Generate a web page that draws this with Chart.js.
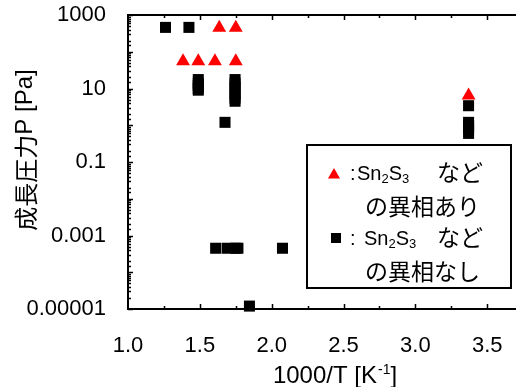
<!DOCTYPE html>
<html><head><meta charset="utf-8">
<script src="https://cdn.jsdelivr.net/npm/chart.js@4/dist/chart.umd.min.js"></script>
<style>html,body{margin:0;padding:0;background:#fff}#wrap{width:516px;height:387px}</style>
</head><body><div id="wrap"><canvas id="c" width="516" height="387"></canvas></div>
<script>
// ---- data (1000/T [1/K], growth pressure P [Pa]) ----
const withPhaseX = [1.635, 1.75, 1.383, 1.489, 1.605, 1.75, 3.37];
const withPhaseY = [450, 450, 55, 55, 55, 55, 6.5];
const noPhaseX = [1.261, 1.424,
  1.489, 1.489, 1.489, 1.489, 1.489,
  1.745, 1.745, 1.745, 1.745, 1.745, 1.745, 1.745,
  1.675,
  1.61, 1.69, 1.75, 1.765, 2.075,
  1.845,
  3.37, 3.37, 3.37, 3.37, 3.37];
const noPhaseY = [460, 460,
  17.5, 14, 12, 10, 9,
  17.5, 14, 11, 9, 7, 5.5, 4.5,
  1.2,
  4.5e-4, 4.5e-4, 4.5e-4, 4.5e-4, 4.5e-4,
  1.2e-5,
  3.4, 1.2, 1.0, 0.8, 0.6];
const xTickLabels = ['1.0', '1.5', '2.0', '2.5', '3.0', '3.5'];
const yTickLabels = ['0.00001', '0.001', '0.1', '10', '1000'];
const xTitle = ['1000/T [K', '-1', ']'];
const yTitle = ['成長圧力', 'P [Pa]'];
const legendLabels = [['Sn', '2', 'S', '3', 'など', 'の異相あり'], ['Sn', '2', 'S', '3', 'など', 'の異相なし']];

const LAT = '"Liberation Sans", Arial, sans-serif';
const CJK = '"Noto Sans CJK JP", "Noto Sans CJK SC", sans-serif';

function pts(xs, ys) { return xs.map((x, i) => ({x: x, y: ys[i]})); }

const decorPlugin = {
  id: 'decor',
  afterDraw(chart) {
    const ctx = chart.ctx, ca = chart.chartArea;
    const xs = chart.scales.x, ys = chart.scales.y;
    ctx.save();
    ctx.strokeStyle = '#000'; ctx.fillStyle = '#000';
    // top frame line
    ctx.lineWidth = 2;
    ctx.beginPath(); ctx.moveTo(ca.left - 1, ca.top); ctx.lineTo(ca.right, ca.top); ctx.stroke();
    // x ticks (inward, bottom and top)
    ctx.lineWidth = 1.5;
    xs.ticks.forEach(t => {
      const q = t.value / 0.25;
      if (Math.abs(q - Math.round(q)) > 1e-6) return;
      const px = Math.round(xs.getPixelForValue(t.value)) + 0.5;
      if (px <= ca.left + 1 || px >= ca.right - 1) return;
      const major = Math.abs(t.value * 2 - Math.round(t.value * 2)) < 1e-6;
      const len = major ? 5 : 3;
      ctx.beginPath();
      ctx.moveTo(px, ca.bottom); ctx.lineTo(px, ca.bottom - len);
      ctx.moveTo(px, ca.top); ctx.lineTo(px, ca.top + len);
      ctx.stroke();
    });
    // y ticks (inward, left)
    ys.ticks.forEach(t => {
      const py = Math.round(ys.getPixelForValue(t.value)) + 0.5;
      const lg = Math.log10(t.value);
      const major = Math.abs(lg - Math.round(lg)) < 1e-6;
      const len = major ? 5 : 3;
      ctx.beginPath(); ctx.moveTo(ca.left, py); ctx.lineTo(ca.left + len, py); ctx.stroke();
    });
    // x title
    ctx.textBaseline = 'alphabetic'; ctx.textAlign = 'left';
    const f1 = '24px ' + LAT, f2 = '14px ' + LAT;
    ctx.font = f1; const w1 = ctx.measureText(xTitle[0]).width, w3 = ctx.measureText(xTitle[2]).width;
    ctx.font = f2; const w2 = ctx.measureText(xTitle[1]).width;
    let x0 = (ca.left + ca.right) / 2 + 13 - (w1 + w2 + w3 + 1) / 2;
    const by = 383;
    ctx.font = f1; ctx.fillText(xTitle[0], x0, by);
    ctx.font = f2; ctx.fillText(xTitle[1], x0 + w1 + 1, by - 9);
    ctx.font = f1; ctx.fillText(xTitle[2], x0 + w1 + w2 + 1, by);
    // y title (rotated)
    ctx.save();
    ctx.translate(25, 150); ctx.rotate(-Math.PI / 2);
    const fc = '24px ' + CJK, fl = '24px ' + LAT;
    ctx.font = fc; const a1 = ctx.measureText(yTitle[0]).width;
    ctx.font = fl; const a2 = ctx.measureText(yTitle[1]).width;
    let sx = -(a1 + a2) / 2;
    ctx.textBaseline = 'middle';
    ctx.font = fc; ctx.fillText(yTitle[0], sx, 1);
    ctx.font = fl; ctx.fillText(yTitle[1], sx + a1, 0);
    ctx.restore();
    // legend box
    const L = ca.right - 209, T = 145, R = ca.right - 5, B = 288;
    ctx.fillStyle = '#fff'; ctx.fillRect(L, T, R - L, B - T);
    ctx.lineWidth = 2; ctx.strokeStyle = '#000';
    ctx.strokeRect(L, T, R - L, B - T);
    // markers
    ctx.fillStyle = '#ff0000';
    Chart.helpers.drawPoint(ctx, {pointStyle: 'triangle', radius: 7, rotation: 0, borderWidth: 0}, L + 27, T + 30);
    ctx.fillStyle = '#000';
    Chart.helpers.drawPoint(ctx, {pointStyle: 'rect', radius: 7.1, rotation: 0, borderWidth: 0}, L + 29, T + 93);
    // legend texts
    const lf = '20px ' + LAT, sf = '13px ' + LAT, cf = '23px ' + CJK;
    ctx.fillStyle = '#000'; ctx.textBaseline = 'alphabetic';
    const lines = [{b: T + 35, colon: ':', sn: L + 50}, {b: T + 100, colon: ':', sn: L + 57}];
    lines.forEach((ln, i) => {
      const lab = legendLabels[i];
      let x = L + 43;
      ctx.font = lf; ctx.fillText(ln.colon, x, ln.b);
      x = ln.sn;
      ctx.font = lf; ctx.fillText(lab[0], x, ln.b); x += ctx.measureText(lab[0]).width;
      ctx.font = sf; ctx.fillText(lab[1], x, ln.b + 3); x += ctx.measureText(lab[1]).width;
      ctx.font = lf; ctx.fillText(lab[2], x, ln.b); x += ctx.measureText(lab[2]).width;
      ctx.font = sf; ctx.fillText(lab[3], x, ln.b + 3);
      ctx.font = cf; ctx.fillText(lab[4], L + 130, ln.b + 1);
      ctx.fillText(lab[5], L + 58, ln.b + 35);
    });
    ctx.restore();
  }
};

new Chart(document.getElementById('c'), {
  type: 'scatter',
  data: {
    datasets: [
      {label: 'with', data: pts(withPhaseX, withPhaseY), pointStyle: 'triangle', pointRadius: 8, pointHoverRadius: 8,
       backgroundColor: '#ff0000', borderWidth: 0, clip: false},
      {label: 'without', data: pts(noPhaseX, noPhaseY), pointStyle: 'rect', pointRadius: 7.8, pointHoverRadius: 7.8,
       backgroundColor: '#000000', borderWidth: 0, clip: false}
    ]
  },
  options: {
    responsive: false, animation: false, devicePixelRatio: 1,
    layout: {autoPadding: false, padding: {top: 15, left: 0, right: 0, bottom: 0}},
    plugins: {legend: {display: false}, tooltip: {enabled: false}},
    scales: {
      x: {
        type: 'linear', min: 1, max: 3.7, position: 'bottom',
        grid: {display: false},
        border: {display: true, width: 2, color: '#000'},
        ticks: {
          stepSize: 0.25, autoSkip: false, maxRotation: 0, includeBounds: false, padding: 16,
          color: '#000', font: {family: LAT, size: 22},
          callback: v => { const l = xTickLabels.find(s => Math.abs(parseFloat(s) - v) < 1e-6); return l === undefined ? '' : l; }
        },
        afterFit: s => { s.height = 78; s.paddingLeft = 0; s.paddingRight = 0; }
      },
      y: {
        type: 'logarithmic', min: 1e-5, max: 1000, position: 'left',
        grid: {display: false},
        border: {display: true, width: 2, color: '#000'},
        ticks: {
          autoSkip: false, padding: 14, color: '#000', font: {family: LAT, size: 22},
          callback: v => { const l = yTickLabels.find(s => Math.abs(Math.log10(parseFloat(s)) - Math.log10(v)) < 1e-6); return l === undefined ? '' : l; }
        },
        afterFit: s => { s.width = 128; s.paddingTop = 0; s.paddingBottom = 0; }
      }
    }
  },
  plugins: [decorPlugin]
});
</script></body></html>
